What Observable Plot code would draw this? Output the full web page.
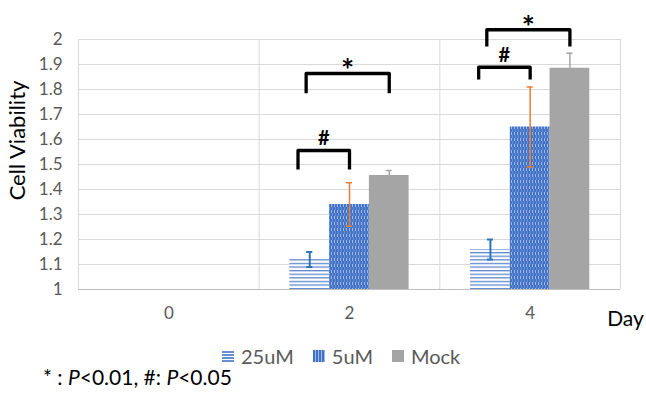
<!DOCTYPE html>
<html><head><meta charset="utf-8">
<script src="https://cdn.jsdelivr.net/npm/d3@7"></script>
<script src="https://cdn.jsdelivr.net/npm/@observablehq/plot@0.6"></script>
<style>
body{margin:0;background:#fff;font-family:Lato,"Open Sans",sans-serif}
#wrap{position:relative;width:646px;height:393px;overflow:hidden}
#legend{position:absolute;left:222px;top:344px;font-size:20px;color:#595959;display:flex;align-items:center;line-height:24px;white-space:nowrap}
#legend .sw{display:inline-block;width:12px;height:12px;margin-right:7px}
#legend .it{display:flex;align-items:center;margin-right:19px}
#note{position:absolute;left:43px;top:364px;font-size:21px;color:#000;white-space:nowrap;line-height:26px}
</style></head><body><div id="wrap"><div id="chart"></div>
<div id="legend"></div>
<div id="note">* : <i>P</i>&lt;0.01, #: <i>P</i>&lt;0.05</div></div>
<script>
// ---- data ----
const days = [0, 2, 4];
const series = ["25uM", "5uM", "Mock"];
const v25   = [null, 1.12, 1.16];
const e25   = [null, 0.03, 0.04];
const v5    = [null, 1.34, 1.65];
const e5    = [null, 0.087, 0.16];
const vMock = [null, 1.456, 1.885];
const eMock = [null, 0.02, 0.06];
const yTicks = [1, 1.1, 1.2, 1.3, 1.4, 1.5, 1.6, 1.7, 1.8, 1.9, 2];
// significance brackets
const bracketDay    = [2, 2, 4, 4];
const bracketFrom   = ["25uM", "25uM", "25uM", "25uM"];
const bracketTo     = ["5uM", "Mock", "5uM", "Mock"];
const bracketSymbol = ["#", "*", "#", "*"];
const bracketTop    = [1.556, 1.864, 1.889, 2.039];
const bracketFoot   = [1.48, 1.785, 1.84, 1.972];

// ---- derived ----
const seriesValues = [v25, v5, vMock];
const seriesErrors = [e25, e5, eMock];
const rows = [];
days.forEach((day, i) => series.forEach((s, j) => {
  const v = seriesValues[j][i];
  if (v == null) return;
  rows.push({i, j, s, v, e: seriesErrors[j][i]});
}));

const W = 0.22;      // bar width in category units
const CAP = 0.017;   // error-bar cap half width
const centre = d => d.i + (d.j - 1) * W;
const styles = [
  {fill: "url(#p25)", err: "#2E75B6", ew: 2},
  {fill: "url(#p5)",  err: "#ED7D31", ew: 1.5},
  {fill: "#A5A5A5",   err: "#A5A5A5", ew: 1.5}
];

const bracketLines = [];
const bracketMarks = [];
bracketDay.forEach((day, k) => {
  const i = days.indexOf(day);
  const a = series.indexOf(bracketFrom[k]), b = series.indexOf(bracketTo[k]);
  const lead = bracketSymbol[k] === "#" ? -0.065 : -0.02;
  const xa = i + (a - 1) * W + lead, xb = i + (b - 1) * W;
  bracketLines.push({k, x: xa, y: bracketFoot[k]}, {k, x: xa, y: bracketTop[k]},
                    {k, x: xb, y: bracketTop[k]}, {k, x: xb, y: bracketFoot[k]});
  bracketMarks.push({k, x: (xa + xb) / 2, y: bracketTop[k], s: bracketSymbol[k]});
});

const barMarks = [];
series.forEach((s, j) => {
  const data = rows.filter(d => d.j === j);
  const st = styles[j];
  barMarks.push(
    Plot.rectY(data, {x1: d => centre(d) - W / 2, x2: d => centre(d) + W / 2, y1: 1, y2: "v", fill: st.fill})
  );
});
series.forEach((s, j) => {
  const data = rows.filter(d => d.j === j);
  const st = styles[j];
  barMarks.push(
    Plot.ruleX(data, {x: centre, y1: d => d.v - d.e, y2: d => d.v + d.e, stroke: st.err, strokeWidth: st.ew}),
    Plot.ruleY(data, {y: d => d.v + d.e, x1: d => centre(d) - CAP, x2: d => centre(d) + CAP, stroke: st.err, strokeWidth: st.ew}),
    Plot.ruleY(data, {y: d => d.v - d.e, x1: d => centre(d) - CAP, x2: d => centre(d) + CAP, stroke: st.err, strokeWidth: st.ew})
  );
});

const chart = Plot.plot({
  width: 646,
  height: 340,
  marginLeft: 78,
  marginRight: 26,
  marginTop: 39,
  marginBottom: 51,
  style: {fontFamily: "Lato, 'Open Sans', sans-serif", background: "#fff", overflow: "visible"},
  x: {domain: [-0.5, days.length - 0.5]},
  y: {domain: [1, 2]},
  marks: [
    Plot.gridY(yTicks, {stroke: "#d9d9d9", strokeOpacity: 1}),
    Plot.gridX(d3.range(days.length + 1).map(i => i - 0.5), {stroke: "#d9d9d9", strokeOpacity: 1}),
    Plot.ruleY([1], {stroke: "#bfbfbf", strokeWidth: 1.2}),
    ...barMarks,
    Plot.line(bracketLines, {x: "x", y: "y", z: "k", stroke: "#000", strokeWidth: 3.3, strokeLinejoin: "round", strokeLinecap: "butt"}),
    Plot.text(bracketMarks.filter(d => d.s === "#"), {x: "x", y: "y", text: "s", dy: -12, fontSize: 20, fontWeight: "bold", fill: "#000"}),
    Plot.text(bracketMarks.filter(d => d.s === "*"), {x: "x", y: "y", text: "s", dy: -2, fontSize: 31, fontWeight: "bold", fill: "#000"}),
    Plot.axisY(yTicks, {tickSize: 0, tickPadding: 16, fontSize: 17, fill: "#595959", label: null,
      tickFormat: d => String(+d.toFixed(1))}),
    Plot.axisX(days.map((d, i) => i), {tickSize: 0, tickPadding: 17, fontSize: 17, fill: "#595959", label: null,
      tickFormat: i => String(days[i])}),
    Plot.text(["Cell Viability"], {frameAnchor: "left", textAnchor: "middle", text: d => d, rotate: -90, dx: -61, dy: -24, fontSize: 22, fill: "#000"}),
    Plot.text(["Day"], {frameAnchor: "bottom-right", textAnchor: "middle", text: d => d, dx: 5, dy: 36, fontSize: 21, fill: "#000"})
  ]
});

// pattern fills used by the bars
const defs = d3.create("svg:defs");
const p25 = defs.append("pattern").attr("id", "p25").attr("patternUnits", "userSpaceOnUse").attr("width", 6).attr("height", 3.6);
p25.append("rect").attr("width", 6).attr("height", 3.6).attr("fill", "#ffffff");
p25.append("rect").attr("y", 0).attr("width", 6).attr("height", 1.3).attr("fill", "#5f88cf");
const p5 = defs.append("pattern").attr("id", "p5").attr("patternUnits", "userSpaceOnUse").attr("width", 3).attr("height", 6);
p5.append("rect").attr("width", 3).attr("height", 6).attr("fill", "#4472C4");
p5.append("rect").attr("x", 1).attr("y", 0).attr("width", 1).attr("height", 3).attr("fill", "#9bb9ea");
p5.append("rect").attr("x", 2).attr("y", 3).attr("width", 0.6).attr("height", 3).attr("fill", "#7fa3e0");
chart.insertBefore(defs.node(), chart.firstChild);
document.getElementById("chart").appendChild(chart);

// legend
const swatchCss = [
  "background:repeating-linear-gradient(to bottom,#fff 0 1.5px,#6a8fd0 1.5px 3px)",
  "background:repeating-linear-gradient(to right,#4472C4 0 2px,#9bb9ea 2px 3px)",
  "background:#A5A5A5"
];
const legend = d3.select("#legend");
series.forEach((s, j) => {
  const it = legend.append("span").attr("class", "it");
  it.append("span").attr("class", "sw").attr("style", swatchCss[j]);
  it.append("span").text(s);
});
</script></body></html>
